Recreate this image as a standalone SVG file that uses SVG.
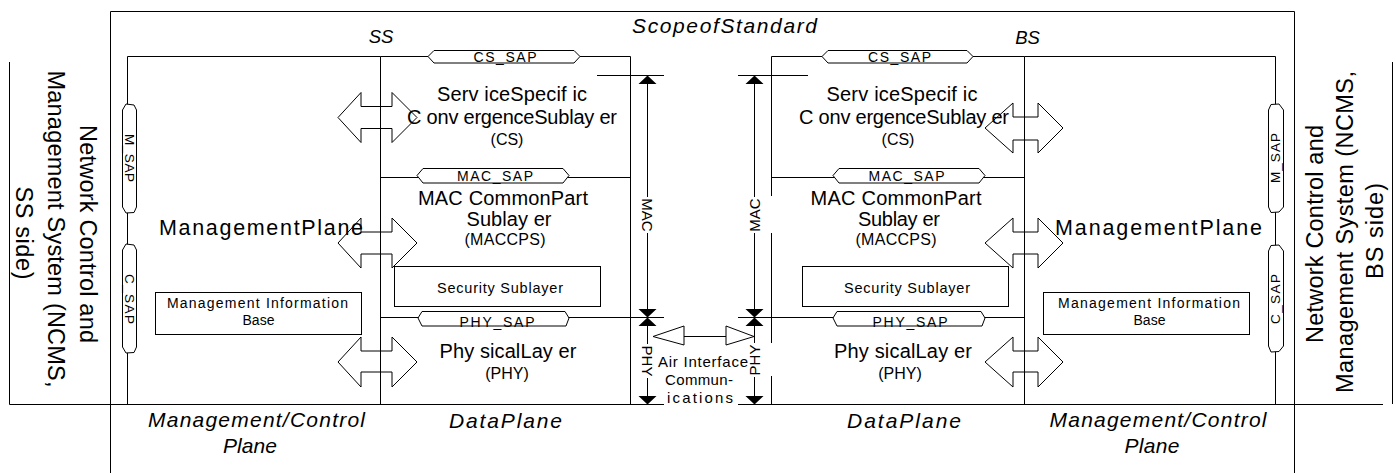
<svg xmlns="http://www.w3.org/2000/svg" width="1396" height="473" viewBox="0 0 1396 473">
<style>
.ln{fill:none;stroke:#000;stroke-width:1}
.sap{fill:#fff;stroke:#000;stroke-width:1}
.box{fill:#fff;stroke:#000;stroke-width:1}
.blk{fill:none;stroke:#000;stroke-width:1}
.head{fill:#000;stroke:none}
.tri{fill:none;stroke:#000;stroke-width:1}
text{font-family:"Liberation Sans",Arial,sans-serif;fill:#000;text-anchor:middle}
.it{font-style:italic}
.big{font-size:20px}
.lab{font-size:21px}
.par{font-size:16px}
.sapt{font-size:14px}
.ncms{font-size:23.5px}
.dim{font-size:15px}
</style>
<rect width="1396" height="473" fill="#fff"/>

<g id="frame">
  <path class="ln" d="M110.5,473 V11.5 H1294.5 V473"/>
  <text class="it" x="724.5" y="33" font-size="21" textLength="185" lengthAdjust="spacing">ScopeofStandard</text>
  <path class="ln" d="M9.5,404.5 H664 M738,404.5 H1383"/>
</g>

<g id="ncms-ss">
  <path class="ln" d="M9.5,62 V404.5"/>
  <text class="ncms" transform="translate(80,234) rotate(90)" textLength="218" lengthAdjust="spacing">Network Control and</text>
  <text class="ncms" transform="translate(48,229) rotate(90)" textLength="317" lengthAdjust="spacing">Management System (NCMS,</text>
  <text class="ncms" transform="translate(16,233) rotate(90)" textLength="93" lengthAdjust="spacing">SS side)</text>
</g>

<g id="ncms-bs">
  <path class="ln" d="M1392.5,62 V404"/>
  <text class="ncms" transform="translate(1323,234) rotate(-90)" textLength="218" lengthAdjust="spacing">Network Control and</text>
  <text class="ncms" transform="translate(1353,232) rotate(-90)" textLength="322" lengthAdjust="spacing">Management System (NCMS,</text>
  <text class="ncms" transform="translate(1383,231) rotate(-90)" textLength="96" lengthAdjust="spacing">BS side)</text>
</g>

<g id="mgmt-ss">
  <path class="ln" d="M127.5,404.5 V56.5 H380.5"/>
  <text class="it" x="381" y="43" font-size="18.5">SS</text>
  <path class="sap" d="M122.5,110 L126,104 L134,105 L136.5,110 V207 L134,212.5 L126,213 L122.5,207 Z"/>
  <text font-size="13.5" transform="translate(125,158) rotate(90)" textLength="48" lengthAdjust="spacing">M_SAP</text>
  <path class="sap" d="M122.5,250 L126,244 L134,245 L136.5,250 V347 L134,352.5 L126,353 L122.5,347 Z"/>
  <text font-size="13.5" transform="translate(125,299) rotate(90)" textLength="50" lengthAdjust="spacing">C_SAP</text>
  <text x="261" y="235" font-size="21.5" textLength="204" lengthAdjust="spacing">ManagementPlane</text>
  <rect class="box" x="155.5" y="292.5" width="206" height="42"/>
  <text x="257.5" y="308" font-size="14" textLength="181" lengthAdjust="spacing">Management Information</text>
  <text x="258.5" y="325" font-size="14">Base</text>
  <text class="it lab" x="256.5" y="427" textLength="217" lengthAdjust="spacing">Management/Control</text>
  <text class="it lab" x="250" y="453" textLength="54" lengthAdjust="spacing">Plane</text>
</g>

<g id="data-ss">
  <path class="ln" d="M380.5,56.5 V404.5 M380.5,56.5 H630.5 V404.5 M380.5,177.5 H630.5 M380.5,317.5 H664"/>
  <path class="sap" d="M428,56.5 L434,50.5 H574 L580,56.5 L574,63 H434 Z"/>
  <text class="sapt" x="505" y="62" textLength="63" lengthAdjust="spacing">CS_SAP</text>
  <text class="big" x="512" y="101" textLength="150" lengthAdjust="spacing">Serv iceSpecif ic</text>
  <text class="big" x="512" y="124" textLength="210" lengthAdjust="spacing">C onv ergenceSublay er</text>
  <text class="par" x="507" y="145">(CS)</text>
  <path class="sap" d="M417,175.5 L423,168.5 H563 L569,175.5 L563,183 H423 Z"/>
  <text class="sapt" x="495" y="181" textLength="76" lengthAdjust="spacing">MAC_SAP</text>
  <text class="big" x="503" y="205" textLength="170" lengthAdjust="spacing">MAC CommonPart</text>
  <text class="big" x="509" y="226" textLength="85" lengthAdjust="spacing">Sublay er</text>
  <text class="par" x="505" y="245" textLength="81" lengthAdjust="spacing">(MACCPS)</text>
  <rect class="box" x="394.5" y="266.5" width="206" height="40"/>
  <text x="500" y="293" font-size="14.5" textLength="126" lengthAdjust="spacing">Security Sublayer</text>
  <path class="sap" d="M418,318 L422,311.5 H565 L569,318 L566,326 H422 Z"/>
  <text class="sapt" x="497" y="327" textLength="75" lengthAdjust="spacing">PHY_SAP</text>
  <text class="big" x="508" y="358" textLength="137" lengthAdjust="spacing">Phy sicalLay er</text>
  <text class="par" x="507" y="379">(PHY)</text>
  <text class="it lab" x="505.5" y="428" textLength="113" lengthAdjust="spacing">DataPlane</text>
</g>

<g id="data-bs">
  <path class="ln" d="M771.5,56.5 H1024.5 M771.5,56.5 V196 M771.5,233 V343 M771.5,376 V404.5 M1024.5,56.5 V404.5 M771.5,177.5 H1024.5 M738,317.5 H1024.5"/>
  <text class="it" x="1027.5" y="44" font-size="18.5">BS</text>
  <path class="sap" d="M822,56.5 L828,50.5 H967 L973,56.5 L967,63 H828 Z"/>
  <text class="sapt" x="899.5" y="62" textLength="63" lengthAdjust="spacing">CS_SAP</text>
  <text class="big" x="902" y="101" textLength="151" lengthAdjust="spacing">Serv iceSpecif ic</text>
  <text class="big" x="904" y="124" textLength="210" lengthAdjust="spacing">C onv ergenceSublay er</text>
  <text class="par" x="898" y="145">(CS)</text>
  <path class="sap" d="M833,175.5 L839,168.5 H979 L985,175.5 L979,183 H839 Z"/>
  <text class="sapt" x="906.5" y="181" textLength="76" lengthAdjust="spacing">MAC_SAP</text>
  <text class="big" x="896" y="205" textLength="171" lengthAdjust="spacing">MAC CommonPart</text>
  <text class="big" x="899" y="226" textLength="82" lengthAdjust="spacing">Sublay er</text>
  <text class="par" x="896" y="245" textLength="81" lengthAdjust="spacing">(MACCPS)</text>
  <rect class="box" x="802.5" y="266.5" width="206" height="40"/>
  <text x="907" y="293" font-size="14.5" textLength="126" lengthAdjust="spacing">Security Sublayer</text>
  <path class="sap" d="M833,318 L837,311.5 H981 L985,318 L982,326 H837 Z"/>
  <text class="sapt" x="910" y="327" textLength="75" lengthAdjust="spacing">PHY_SAP</text>
  <text class="big" x="903" y="358" textLength="138" lengthAdjust="spacing">Phy sicalLay er</text>
  <text class="par" x="900" y="379">(PHY)</text>
  <text class="it lab" x="904" y="428" textLength="114" lengthAdjust="spacing">DataPlane</text>
</g>

<g id="mgmt-bs">
  <path class="ln" d="M1024.5,56.5 H1275.5 V404.5"/>
  <path class="sap" d="M1268.5,110 L1271,104.5 L1279,104 L1283.5,110 V207 L1279,212 L1271,212.5 L1268.5,207 Z"/>
  <text font-size="13.5" transform="translate(1280,158) rotate(-90)" textLength="50" lengthAdjust="spacing">M_SAP</text>
  <path class="sap" d="M1268.5,251 L1271,245.5 L1279,245 L1283.5,251 V346 L1279,351.5 L1271,352 L1268.5,346 Z"/>
  <text font-size="13.5" transform="translate(1280,299) rotate(-90)" textLength="50" lengthAdjust="spacing">C_SAP</text>
  <text x="1158.5" y="235" font-size="21.5" textLength="207" lengthAdjust="spacing">ManagementPlane</text>
  <rect class="box" x="1043.5" y="292.5" width="206" height="42"/>
  <text x="1149" y="308" font-size="14" textLength="182" lengthAdjust="spacing">Management Information</text>
  <text x="1149.5" y="325" font-size="14">Base</text>
  <text class="it lab" x="1158" y="427" textLength="217" lengthAdjust="spacing">Management/Control</text>
  <text class="it lab" x="1152" y="453" textLength="55" lengthAdjust="spacing">Plane</text>
</g>

<g id="air-interface">
  <text class="dim" x="703" y="367" textLength="90" lengthAdjust="spacing">Air Interface</text>
  <text class="dim" x="699" y="385" textLength="68" lengthAdjust="spacing">Commun-</text>
  <text class="dim" x="700" y="403" textLength="66" lengthAdjust="spacing">ications</text>
</g>

<g id="connectors">
  <path class="blk" d="M338,117.5 L361,92.5 L361,106.5 L392,106.5 L392,92.5 L417,117.5 L392,142.5 L392,128.5 L361,128.5 L361,142.5 Z"/>
  <path class="blk" d="M338,243 L361,218 L361,232 L392,232 L392,218 L417,243 L392,268 L392,254 L361,254 L361,268 Z"/>
  <path class="blk" d="M338,362 L361,337 L361,351 L392,351 L392,337 L417,362 L392,387 L392,372 L361,372 L361,387 Z"/>
  <path class="blk" d="M985,128 L1013,103 L1013,117 L1038,117 L1038,103 L1063,128 L1038,153 L1038,140 L1013,140 L1013,153 Z"/>
  <path class="blk" d="M985,243 L1013,218 L1013,232 L1038,232 L1038,218 L1063,243 L1038,268 L1038,254 L1013,254 L1013,268 Z"/>
  <path class="blk" d="M985,362 L1013,337 L1013,351 L1038,351 L1038,337 L1063,362 L1038,387 L1038,372 L1013,372 L1013,387 Z"/>
  <path class="ln" d="M597,75.5 H664 M738,75.5 H808"/>
  <path class="ln" d="M647.5,84 V197 M647.5,233 V309 M647.5,326 V344 M647.5,378 V396"/>
  <path class="head" d="M647.5,75.5 L638.5,84 L656.5,84 Z M638.5,309 L656.5,309 L647.5,317.5 Z M647.5,317.5 L638.5,326 L656.5,326 Z M638.5,396 L656.5,396 L647.5,404.5 Z"/>
  <text class="dim" transform="translate(642,215) rotate(90)">MAC</text>
  <text class="dim" transform="translate(642,361) rotate(90)">PHY</text>
  <path class="ln" d="M754.5,84 V197 M754.5,233 V309 M754.5,326 V343 M754.5,377 V396"/>
  <path class="head" d="M754.5,75.5 L745.5,84 L763.5,84 Z M745.5,309 L763.5,309 L754.5,317.5 Z M754.5,317.5 L745.5,326 L763.5,326 Z M745.5,396 L763.5,396 L754.5,404.5 Z"/>
  <text class="dim" transform="translate(760,215) rotate(-90)">MAC</text>
  <text class="dim" transform="translate(760,360) rotate(-90)">PHY</text>
  <path class="tri" d="M653,336.5 L684,326 L684,345 Z"/>
  <path class="tri" d="M726,326 L726,345 L754,336.5 Z"/>
  <path class="ln" d="M684,336.5 H726"/>
</g>
</svg>
